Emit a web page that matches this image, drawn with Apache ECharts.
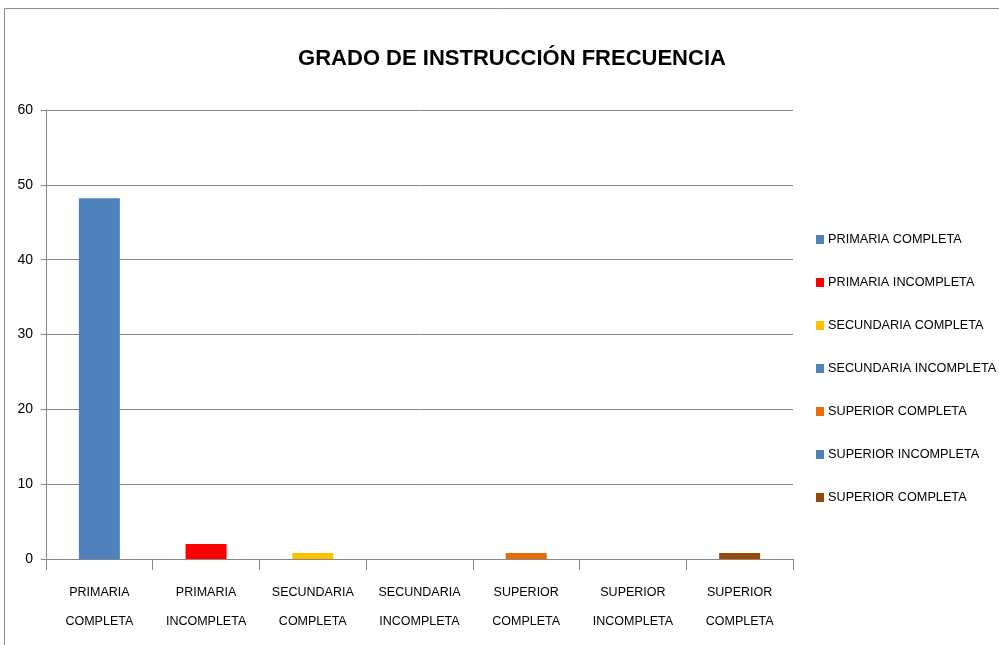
<!DOCTYPE html>
<html><head><meta charset="utf-8">
<script src="https://cdn.jsdelivr.net/npm/echarts@6/dist/echarts.min.js"></script>
<style>html,body{margin:0;padding:0;background:#fff}#c{width:999px;height:645px}</style>
</head><body><div id="c"></div>
<script>
const categories = ['PRIMARIA\nCOMPLETA','PRIMARIA\nINCOMPLETA','SECUNDARIA\nCOMPLETA','SECUNDARIA\nINCOMPLETA','SUPERIOR\nCOMPLETA','SUPERIOR\nINCOMPLETA','SUPERIOR\nCOMPLETA'];
const legendNames = ['PRIMARIA COMPLETA','PRIMARIA INCOMPLETA','SECUNDARIA COMPLETA','SECUNDARIA INCOMPLETA','SUPERIOR COMPLETA','SUPERIOR INCOMPLETA','SUPERIOR COMPLETA '];
const values = [48.2, 2, 0.8, 0, 0.8, 0, 0.8];
const colors = ['#4F81BD','#FF0000','#FFC000','#4F81BD','#E46C0A','#4F81BD','#984807'];
const yTicks = [0,10,20,30,40,50,60];

const font = '"Liberation Sans", Arial, sans-serif';
const chart = echarts.init(document.getElementById('c'));
const series = legendNames.map((n, i) => ({
  name: n, type: 'bar', stack: 'all', barWidth: 41,
  itemStyle: { color: colors[i] },
  data: values.map((v, j) => j === i ? v : null)
}));
chart.setOption({
  animation: false,
  backgroundColor: '#fff',
  title: {
    text: 'GRADO DE INSTRUCCIÓN FRECUENCIA', left: 507, top: 43, textAlign: 'center',
    textStyle: { fontFamily: font, fontSize: 22, fontWeight: 'bold', color: '#000' }
  },
  legend: {
    orient: 'vertical', left: 811, top: 228, itemGap: 30, itemWidth: 8, itemHeight: 9,
    icon: 'rect', data: legendNames,
    textStyle: { fontFamily: font, fontSize: 12.7, color: '#000', padding: [0,0,0,-1] }
  },
  grid: { left: 46, right: 206, top: 110, bottom: 86 },
  xAxis: {
    type: 'category', data: categories,
    axisLine: { lineStyle: { color: '#868686', width: 1 } },
    axisTick: { show: true, length: 11, lineStyle: { color: '#868686' } },
    axisLabel: { color: '#000', fontFamily: font, fontSize: 12.5, lineHeight: 29, margin: 19, interval: 0 }
  },
  yAxis: {
    type: 'value', min: 0, max: 60, interval: 10,
    axisLine: { show: true, lineStyle: { color: '#868686' } },
    axisTick: { show: true, length: 5, lineStyle: { color: '#868686' } },
    axisLabel: { color: '#000', fontFamily: font, fontSize: 14, margin: 13,
      formatter: v => yTicks.includes(v) ? String(v) : '' },
    splitLine: { lineStyle: { color: '#868686' } }
  },
  graphic: [
    { type: 'polyline', shape: { points: [[4.5, 645], [4.5, 8.5], [999, 8.5]] },
      style: { stroke: '#8c8c8c', lineWidth: 1, fill: null } }
  ],
  series
});
</script></body></html>
